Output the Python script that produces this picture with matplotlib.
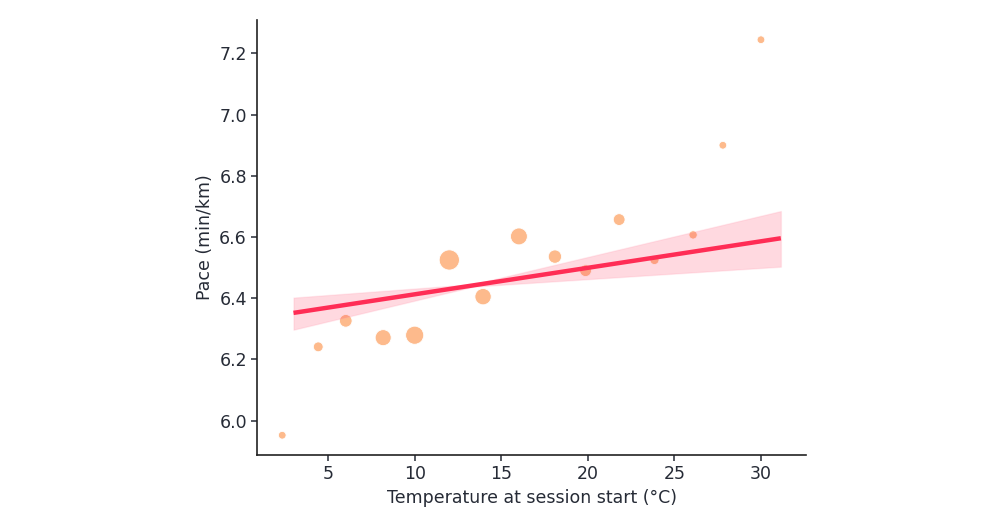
import matplotlib
matplotlib.use("Agg")
import matplotlib.pyplot as plt
import numpy as np

# Data
temp_c = [2.35, 4.43, 6.02, 8.18, 10.0, 12.0, 13.95, 16.02, 18.1, 19.87, 21.81, 23.85, 26.08, 27.8, 30.0]
pace = [5.952, 6.241, 6.326, 6.271, 6.279, 6.525, 6.405, 6.602, 6.536, 6.490, 6.657, 6.525, 6.607, 6.900, 7.245]
marker_area = [31, 50, 83, 133, 170, 212, 138, 148, 92, 72, 72, 43, 36, 31, 31]

fit_x = [3.0, 31.15]
fit_y = [6.352, 6.596]

band_x = [3.0, 13.4, 31.15]
band_lo = [6.297, 6.438, 6.503]
band_hi = [6.402, 6.446, 6.685]

text_color = "#262b36"

fig = plt.figure(figsize=(10, 5.25), dpi=100)
ax = fig.add_axes([0.2573, 0.1333, 0.5485, 0.8287])

ax.scatter(temp_c, pace, s=marker_area, color="#FDBA8C", edgecolor="white",
           linewidth=0.6, zorder=2)
ax.fill_between(band_x, band_lo, band_hi, color="#FF2D55", alpha=0.18,
                edgecolor="#FF8FA6", linewidth=1.0, zorder=3)
ax.plot(fit_x, fit_y, color="#FF2D55", linewidth=3.2, zorder=4,
        solid_capstyle="butt")

ax.set_xticks([5, 10, 15, 20, 25, 30])
ax.set_yticks([6.0, 6.2, 6.4, 6.6, 6.8, 7.0, 7.2])
ax.set_yticklabels(["6.0", "6.2", "6.4", "6.6", "6.8", "7.0", "7.2"])

ax.set_xlabel("Temperature at session start (°C)", fontsize=12.5, color=text_color)
ax.set_ylabel("Pace (min/km)", fontsize=12.5, color=text_color)
ax.tick_params(labelsize=12.5, colors=text_color, length=4, width=1.1)

for side in ("top", "right"):
    ax.spines[side].set_visible(False)
for side in ("left", "bottom"):
    ax.spines[side].set_color("#222222")
    ax.spines[side].set_linewidth(1.2)

fig.savefig("out.png", dpi=100, facecolor="white")
